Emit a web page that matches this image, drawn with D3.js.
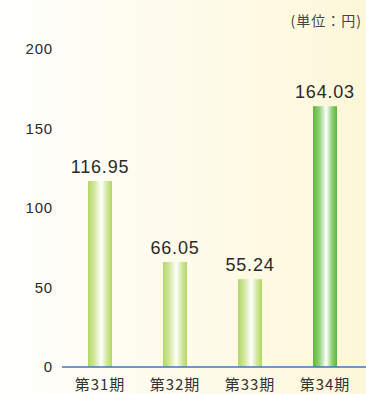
<!DOCTYPE html>
<html>
<head>
<meta charset="utf-8">
<script src="https://cdn.jsdelivr.net/npm/d3@7"></script>
<style>
  body { margin: 0; padding: 0; background: #fff; }
  svg { display: block; }
</style>
</head>
<body>
<div id="chart"></div>
<script>
// chart data
const periods = ['第31期', '第32期', '第33期', '第34期'];
const values = [116.95, 66.05, 55.24, 164.03];
const yTicks = [0, 50, 100, 150, 200];
const unitLabel = '(単位：円)';

const width = 366;
const height = 394;

const svg = d3.select('#chart')
  .append('svg')
  .attr('width', width)
  .attr('height', height);

const defs = svg.append('defs');

// background: white on the left, pale yellow on the right
const bg = defs.append('linearGradient')
  .attr('id', 'bg')
  .attr('x1', '0%').attr('x2', '100%')
  .attr('y1', '0%').attr('y2', '0%');
bg.append('stop').attr('offset', '0%').attr('stop-color', '#fffffd');
bg.append('stop').attr('offset', '100%').attr('stop-color', '#fdf7d9');

// bar gradients, green edges with a white stripe
const makeBarGrad = (id, edge, mid) => {
  const g = defs.append('linearGradient')
    .attr('id', id)
    .attr('x1', '0%').attr('x2', '100%')
    .attr('y1', '0%').attr('y2', '0%');
  g.append('stop').attr('offset', '0%').attr('stop-color', edge);
  g.append('stop').attr('offset', '25%').attr('stop-color', mid);
  g.append('stop').attr('offset', '55%').attr('stop-color', '#ffffff');
  g.append('stop').attr('offset', '80%').attr('stop-color', mid);
  g.append('stop').attr('offset', '100%').attr('stop-color', edge);
};
makeBarGrad('barLight', '#b3d766', '#cfe69a');
makeBarGrad('barDark', '#5bb73a', '#8fce74');

svg.append('rect')
  .attr('width', width)
  .attr('height', height)
  .attr('fill', 'url(#bg)');

const x = d3.scaleBand()
  .domain(periods)
  .range([62.5, 362.5])
  .paddingInner(0.68)
  .paddingOuter(0.34);

const y = d3.scaleLinear()
  .domain([0, 200])
  .range([367, 49]);

// y tick labels (no axis line)
svg.append('g')
  .selectAll('text')
  .data(yTicks)
  .enter()
  .append('text')
  .attr('x', 53)
  .attr('y', (d) => y(d))
  .attr('dy', '0.36em')
  .attr('text-anchor', 'end')
  .style('font-family', 'Liberation Sans, Arial, sans-serif')
  .style('font-size', '15px')
  .style('letter-spacing', '0.8px')
  .style('fill', '#2a2a2a')
  .text((d) => d);

// bars
svg.selectAll('.bar')
  .data(values)
  .enter()
  .append('rect')
  .attr('class', 'bar')
  .attr('x', (d, i) => x(periods[i]))
  .attr('width', x.bandwidth())
  .attr('y', (d) => y(d))
  .attr('height', (d) => y(0) - y(d))
  .attr('fill', (d, i) => i === periods.length - 1 ? 'url(#barDark)' : 'url(#barLight)');

// value labels
svg.selectAll('.val')
  .data(values)
  .enter()
  .append('text')
  .attr('class', 'val')
  .attr('x', (d, i) => x(periods[i]) + x.bandwidth() / 2)
  .attr('y', (d) => y(d) - 8)
  .attr('text-anchor', 'middle')
  .style('font-family', 'Liberation Sans, Arial, sans-serif')
  .style('font-size', '18px')
  .style('letter-spacing', '0.8px')
  .style('fill', '#2a2a2a')
  .text((d) => d.toFixed(2));

// baseline
svg.append('line')
  .attr('x1', 62)
  .attr('x2', width)
  .attr('y1', y(0))
  .attr('y2', y(0))
  .attr('stroke', '#3a78c0')
  .attr('stroke-width', 1.5);

// category labels
const xAxis = d3.axisBottom(x).tickSize(0).tickPadding(0);
svg.append('g')
  .attr('transform', `translate(0, ${y(0)})`)
  .call(xAxis)
  .call((g) => g.select('.domain').remove())
  .selectAll('text')
  .attr('y', 23)
  .attr('dy', 0)
  .style('font-family', 'Noto Sans CJK JP, sans-serif')
  .style('font-size', '15px')
  .style('letter-spacing', '1px')
  .style('fill', '#333');

// unit label
svg.append('text')
  .attr('x', 362)
  .attr('y', 26)
  .attr('text-anchor', 'end')
  .style('font-family', 'Noto Sans CJK JP, sans-serif')
  .style('font-size', '14px')
  .style('letter-spacing', '1px')
  .style('fill', '#444')
  .text(unitLabel);
</script>
</body>
</html>
